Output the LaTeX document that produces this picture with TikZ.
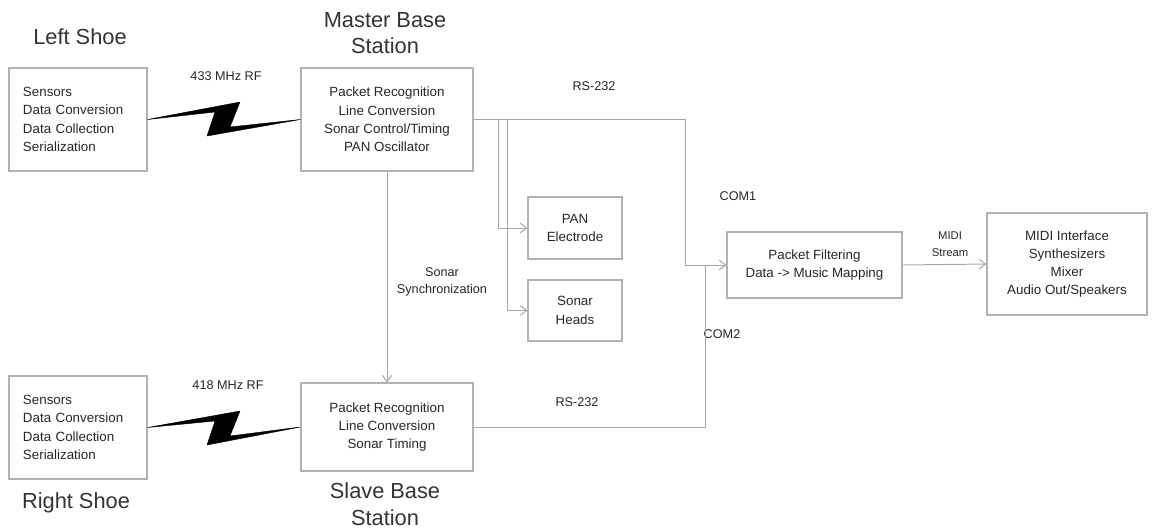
\documentclass[tikz,border=0pt]{standalone}
\usepackage{fontspec}
\setmainfont{Liberation Sans}
\usetikzlibrary{arrows.meta}

\begin{document}
\begin{tikzpicture}[x=0.025cm, y=-0.025cm, >={Straight Barb[length=1.6mm,width=2.4mm]},
	blk/.style={draw=black!30, line width=0.8pt, inner xsep=0pt, inner ysep=0pt, font=\fontsize{9.5}{13}\selectfont, text=black!85, align=center},
	ttl/.style={font=\fontsize{15.5}{19}\selectfont, text=black!80, align=center},
	lbl/.style={font=\fontsize{9}{12}\selectfont, text=black!85, align=center},
	wire/.style={draw=black!35, line width=0.7pt},
	bolt/.style={fill=black, draw=black, line width=0.3pt, line join=round}]
	\useasboundingbox (0,0) rectangle (1153,529);
	% shoes and base stations
	\node[blk, minimum width=3.45cm, minimum height=2.575cm, text width=2.75cm, align=left] (ls) at (78,119.5) {Sensors\\Data Conversion\\Data Collection\\Serialization};
	\node[blk, minimum width=3.45cm, minimum height=2.575cm, text width=2.75cm, align=left] (rs) at (78,427.5) {Sensors\\Data Conversion\\Data Collection\\Serialization};
	\node[blk, minimum width=4.3cm, minimum height=2.575cm] (mbs) at (387,119.5) {Packet Recognition\\Line Conversion\\Sonar Control/Timing\\PAN Oscillator};
	\node[blk, minimum width=4.3cm, minimum height=2.2cm] (sbs) at (387,427) {Packet Recognition\\Line Conversion\\Sonar Timing};
	\node[blk, minimum width=2.35cm, minimum height=1.55cm] (pan) at (575,228) {PAN\\Electrode};
	\node[blk, minimum width=2.35cm, minimum height=1.525cm] (sh) at (575,310.5) {Sonar\\Heads};
	\node[blk, minimum width=4.375cm, minimum height=1.65cm] (pf) at (814.5,265) {Packet Filtering\\Data -> Music Mapping};
	\node[blk, minimum width=4.0cm, minimum height=2.55cm] (midi) at (1067,264) {MIDI Interface\\Synthesizers\\Mixer\\Audio Out/Speakers};
	% titles
	\node[ttl] (lst) at (80,37) {Left Shoe};
	\node[ttl] (rst) at (76,503) {Right Shoe};
	\node[ttl] (mbst) at (385,33) {Master Base\\Station};
	\node[ttl] (sbst) at (385,504) {Slave Base\\Station};
	% labels
	\node[lbl] (rf1) at (226,76) {433 MHz RF};
	\node[lbl] (rf2) at (228,385) {418 MHz RF};
	\node[lbl] (rs1) at (594,86) {RS-232};
	\node[lbl] (rs2) at (577,402) {RS-232};
	\node[lbl] (c1) at (738,196) {COM1};
	\node[lbl] (c2) at (722,334) {COM2};
	\node[lbl] (sync) at (442,282) {Sonar\\Synchronization};
	\node[lbl, font=\fontsize{8}{12}\selectfont] (ms) at (950,244) {MIDI\\Stream};
	% radio links
	\fill[bolt] (ls.east) -- (240,102) -- (230,127) -- (mbs.west) -- (207,136) -- (215,112) -- cycle;
	\fill[bolt] (rs.east) -- (240,411) -- (230,436) -- (sbs.west) -- (207,445) -- (215,421) -- cycle;
	% wires
	\coordinate (tap1) at (498,119.5);
	\coordinate (tap2) at (507,119.5);
	\coordinate (cj1) at (685,265);
	\coordinate (cj2) at (705,265);
	\draw[wire,->] (mbs.east) -| (cj1) -- (pf.west);
	\draw[wire,->] (tap1) |- (pan.west);
	\draw[wire,->] (tap2) |- (sh.west);
	\draw[wire] (sbs.east) -| (cj2);
	\draw[wire,->] (mbs.south) -- (sbs.north);
	\draw[wire,->] (pf.east) -- (midi.west);
\end{tikzpicture}
\end{document}
